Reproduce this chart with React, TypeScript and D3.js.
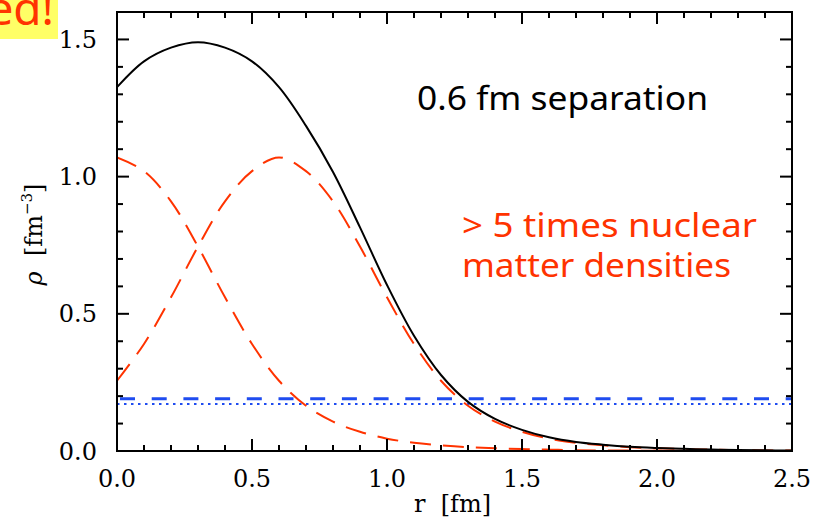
import React from "react";
import * as d3 from "d3";

const rValues = [0, 0.1, 0.2, 0.3, 0.4, 0.5, 0.6, 0.7, 0.8, 0.9, 1.0, 1.1, 1.2, 1.3, 1.4, 1.5, 1.6, 1.7, 1.8, 1.9, 2.0, 2.1, 2.2, 2.3, 2.4, 2.5];
const nucleonA = [1.07, 1.02, 0.91, 0.745, 0.56, 0.39, 0.256, 0.165, 0.107, 0.07, 0.045, 0.03, 0.021, 0.014, 0.01, 0.007, 0.005, 0.003, 0.002, 0.0015, 0.001, 0.0008, 0.0006, 0.0004, 0.0003, 0.0002];
const nucleonB = [0.256, 0.39, 0.56, 0.745, 0.91, 1.02, 1.07, 1.02, 0.91, 0.745, 0.56, 0.39, 0.256, 0.165, 0.107, 0.07, 0.045, 0.03, 0.021, 0.014, 0.01, 0.007, 0.005, 0.003, 0.002, 0.0015];
const total = [1.326, 1.42, 1.47, 1.49, 1.47, 1.42, 1.326, 1.185, 1.017, 0.815, 0.605, 0.42, 0.277, 0.179, 0.117, 0.077, 0.05, 0.033, 0.023, 0.0155, 0.011, 0.0078, 0.0056, 0.0034, 0.0023, 0.0017];
const nuclearDashed = 0.19;
const nuclearDotted = 0.171;
const xMajorTicks = [0, 0.5, 1.0, 1.5, 2.0, 2.5];
const yMajorTicks = [0, 0.5, 1.0, 1.5];
const xTickLabels = ["0.0", "0.5", "1.0", "1.5", "2.0", "2.5"];
const yTickLabels = ["0.0", "0.5", "1.0", "1.5"];

const W = 823, H = 529;
const L = 117, R = 792, T = 12, B = 451;

export default function App() {
  const x = d3.scaleLinear().domain([0, 2.5]).range([L, R]);
  const y = d3.scaleLinear().domain([0, 1.6]).range([B, T]);
  const line = (vals: number[]) =>
    d3.line<number>().x((_, i) => x(rValues[i])).y((v) => y(v)).curve(d3.curveCatmullRom.alpha(0.5))(vals) || "";
  const xMinor = d3.range(0, 26).map((i) => i / 10);
  const yMinor = d3.range(0, 17).map((i) => i / 10);
  const isMajor = (v: number) => Math.abs(v * 2 - Math.round(v * 2)) < 1e-6;
  const red = "#ff3300";
  const blue = "#1f4cf0";
  const tickFont = "DejaVu Serif";
  const annFont = "Noto Sans";
  return (
    <svg width={W} height={H} style={{ position: "absolute", left: 0, top: 0, background: "#fff" }}>
      <rect x={0} y={0} width={58} height={39} fill="#ffff66" />
      <text x={54} y={25} textAnchor="end" fontFamily={annFont} fontSize={46} fill={red}>ed!</text>

      <defs>
        <clipPath id="plot">
          <rect x={L} y={T} width={R - L} height={B - T} />
        </clipPath>
      </defs>
      <g clipPath="url(#plot)">
        <line x1={L} x2={R} y1={y(nuclearDashed)} y2={y(nuclearDashed)} stroke={blue} strokeWidth={3} strokeDasharray="15,16.7" strokeDashoffset={-3} />
        <line x1={L} x2={R} y1={y(nuclearDotted)} y2={y(nuclearDotted)} stroke={blue} strokeWidth={2} strokeDasharray="2.5,4.5" />
        <path d={line(nucleonA)} fill="none" stroke={red} strokeWidth={2} strokeDasharray="21,12" />
        <path d={line(nucleonB)} fill="none" stroke={red} strokeWidth={2} strokeDasharray="21,12" />
        <path d={line(total)} fill="none" stroke="#000" strokeWidth={2} />
      </g>

      <rect x={L} y={T} width={R - L} height={B - T} fill="none" stroke="#000" strokeWidth={2} />
      {xMinor.map((v) => {
        const len = isMajor(v) ? 12 : 6;
        return (
          <g key={"x" + v}>
            <line x1={x(v)} x2={x(v)} y1={B} y2={B - len} stroke="#000" strokeWidth={2} />
            <line x1={x(v)} x2={x(v)} y1={T} y2={T + len} stroke="#000" strokeWidth={2} />
          </g>
        );
      })}
      {yMinor.map((v) => {
        const len = isMajor(v) ? 12 : 6;
        return (
          <g key={"y" + v}>
            <line x1={L} x2={L + len} y1={y(v)} y2={y(v)} stroke="#000" strokeWidth={2} />
            <line x1={R} x2={R - len} y1={y(v)} y2={y(v)} stroke="#000" strokeWidth={2} />
          </g>
        );
      })}
      {xMajorTicks.map((v, i) => (
        <text key={"xl" + v} x={x(v)} y={487} textAnchor="middle" fontFamily={tickFont} fontSize={24} fill="#000">{xTickLabels[i]}</text>
      ))}
      {yMajorTicks.map((v, i) => (
        <text key={"yl" + v} x={97} y={y(v) + 8.5} textAnchor="end" fontFamily={tickFont} fontSize={24} fill="#000">{yTickLabels[i]}</text>
      ))}
      <text x={(L + R) / 2 - 2} y={512} textAnchor="middle" fontFamily={tickFont} fontSize={24} fill="#000" style={{ whiteSpace: "pre" }}>{"r  [fm]"}</text>
      <text transform={`translate(42, ${(T + B) / 2 + 3}) rotate(-90)`} textAnchor="middle" fontFamily={tickFont} fontSize={24} fill="#000" style={{ whiteSpace: "pre" }}>
        <tspan fontStyle="italic">ρ</tspan>
        <tspan>{"  [fm"}</tspan>
        <tspan fontSize={15} dy={-10}>−3</tspan>
        <tspan dy={10}>]</tspan>
      </text>

      <text x={417} y={110} fontFamily={annFont} fontSize={32} fill="#000" textLength={291} lengthAdjust="spacingAndGlyphs">0.6 fm separation</text>
      <text x={462} y={237} fontFamily={annFont} fontSize={32} fill={red} textLength={295} lengthAdjust="spacingAndGlyphs">&gt; 5 times nuclear</text>
      <text x={462} y={277} fontFamily={annFont} fontSize={32} fill={red} textLength={269} lengthAdjust="spacingAndGlyphs">matter densities</text>
    </svg>
  );
}
